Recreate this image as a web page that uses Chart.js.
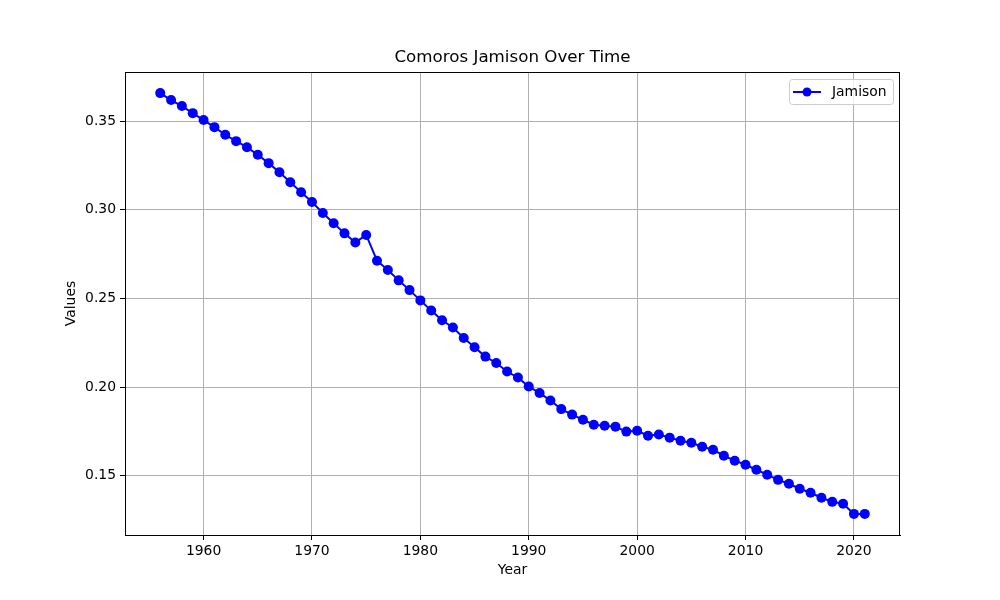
<!DOCTYPE html>
<html>
<head>
<meta charset="utf-8">
<script src="https://cdn.jsdelivr.net/npm/chart.js@4/dist/chart.umd.min.js"></script>
<style>
html,body{margin:0;padding:0;background:#fff;}
#wrap{width:1000px;height:600px;}
</style>
</head>
<body>
<div id="wrap"><canvas id="c" width="1000" height="600"></canvas></div>
<script>
const years = [];
for (let y = 1956; y <= 2021; y++) years.push(y);
const jamison = [
  0.3658, 0.3619, 0.3585, 0.3545, 0.3506, 0.3466, 0.3423, 0.3387, 0.3353, 0.3310,
  0.3263, 0.3212, 0.3155, 0.3099, 0.3044, 0.2982, 0.2924, 0.2867, 0.2816, 0.2858,
  0.2713, 0.2660, 0.2602, 0.2547, 0.2489, 0.2432, 0.2377, 0.2336, 0.2277, 0.2225,
  0.2172, 0.2136, 0.2088, 0.2054, 0.2003, 0.1967, 0.1924, 0.1876, 0.1845, 0.1816,
  0.1788, 0.1782, 0.1777, 0.1749, 0.1754, 0.1726, 0.1733, 0.1715, 0.1698, 0.1686,
  0.1664, 0.1647, 0.1613, 0.1585, 0.1562, 0.1534, 0.1506, 0.1477, 0.1455, 0.1427,
  0.1404, 0.1376, 0.1353, 0.1342, 0.1285, 0.1285
];
const xTicks = [1960, 1970, 1980, 1990, 2000, 2010, 2020];
const yTicks = [0.15, 0.20, 0.25, 0.30, 0.35];
const seriesName = 'Jamison';
const titleText = 'Comoros Jamison Over Time';

const FONT = 'DejaVu Sans';
const points = years.map((x, i) => ({x: x, y: jamison[i]}));

const framePlugin = {
  id: 'frame',
  afterDraw(chart) {
    const {ctx, chartArea: a} = chart;
    ctx.save();
    ctx.strokeStyle = '#000';
    ctx.lineWidth = 1;
    ctx.strokeRect(a.left + 0.5, a.top + 0.5, a.right - a.left - 1, a.bottom - a.top);
    // title centred over the plot area
    ctx.fillStyle = '#000';
    ctx.font = '16.7px "' + FONT + '"';
    ctx.textAlign = 'center';
    ctx.textBaseline = 'middle';
    ctx.fillText(titleText, (a.left + a.right) / 2, a.top - 14);
    // legend
    const bx = 789, by = 79, bw = 104, bh = 25;
    ctx.fillStyle = 'rgba(255,255,255,0.8)';
    ctx.strokeStyle = '#cccccc';
    ctx.lineWidth = 1;
    ctx.beginPath();
    if (ctx.roundRect) ctx.roundRect(bx + 0.5, by + 0.5, bw, bh, 3); else ctx.rect(bx + 0.5, by + 0.5, bw, bh);
    ctx.fill();
    ctx.stroke();
    const ly = by + bh / 2 + 0.5;
    ctx.strokeStyle = '#0000ff';
    ctx.lineWidth = 2;
    ctx.beginPath();
    ctx.moveTo(793, ly);
    ctx.lineTo(821, ly);
    ctx.stroke();
    ctx.fillStyle = '#0000ff';
    ctx.beginPath();
    ctx.arc(807, ly, 4.5, 0, Math.PI * 2);
    ctx.fill();
    ctx.fillStyle = '#000';
    ctx.font = '13.9px "' + FONT + '"';
    ctx.textBaseline = 'middle';
    ctx.textAlign = 'left';
    ctx.fillText(seriesName, 832, ly);
    ctx.restore();
  }
};

new Chart(document.getElementById('c'), {
  type: 'line',
  data: {
    datasets: [{
      label: seriesName,
      data: points,
      borderColor: '#0000ff',
      backgroundColor: '#0000ff',
      borderWidth: 2,
      pointRadius: 5,
      pointHoverRadius: 5,
      pointBorderWidth: 0,
      tension: 0
    }]
  },
  options: {
    responsive: false,
    animation: false,
    devicePixelRatio: 1,
    layout: {padding: {top: 72, right: 100, bottom: 0, left: 0}},
    plugins: {
      legend: {display: false},
      tooltip: {enabled: false},
      title: {display: false}
    },
    scales: {
      x: {
        type: 'linear',
        min: 1952.75,
        max: 2024.25,
        afterBuildTicks(s) { s.ticks = xTicks.map(v => ({value: v})); },
        afterFit(s) { s.height = 65; },
        ticks: {
          color: '#000',
          font: {family: FONT, size: 13.9},
          padding: 3,
          maxRotation: 0,
          callback: v => String(v)
        },
        grid: {color: '#b0b0b0', lineWidth: 1, tickLength: 5, tickColor: '#000', drawTicks: true},
        border: {color: '#000', width: 1},
        title: {
          display: true,
          text: 'Year',
          color: '#000',
          font: {family: FONT, size: 13.9},
          padding: {top: 0, bottom: 21}
        }
      },
      y: {
        type: 'linear',
        min: 0.1166,
        max: 0.3777,
        afterBuildTicks(s) { s.ticks = yTicks.map(v => ({value: v})); },
        afterFit(s) { s.width = 125; },
        ticks: {
          color: '#000',
          font: {family: FONT, size: 13.9},
          padding: 4,
          callback: v => Number(v).toFixed(2)
        },
        grid: {color: '#b0b0b0', lineWidth: 1, tickLength: 5, tickColor: '#000', drawTicks: true},
        border: {color: '#000', width: 1},
        title: {
          display: true,
          text: 'Values',
          color: '#000',
          font: {family: FONT, size: 13.9},
          padding: {top: 63, bottom: 0}
        }
      }
    }
  },
  plugins: [framePlugin]
});
</script>
</body>
</html>
